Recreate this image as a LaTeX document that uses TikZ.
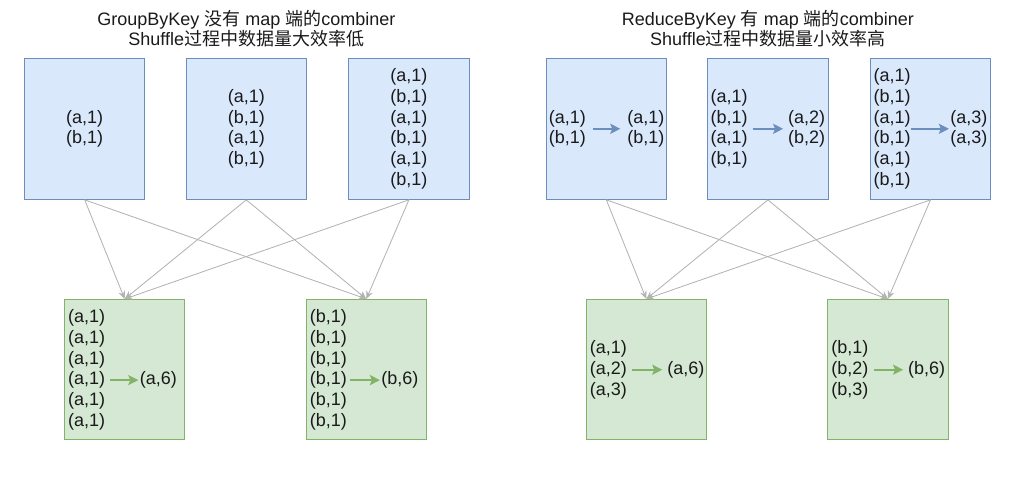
\documentclass[tikz,border=0pt]{standalone}
\usepackage{fontspec}
\setmainfont{Liberation Sans}
\newfontfamily\cjk{Noto Sans CJK SC}
\usepackage{xcolor}
\usepackage{tikz}
\definecolor{mapfill}{HTML}{DAE8FC}
\definecolor{mapdraw}{HTML}{6C8EBF}
\definecolor{redfill}{HTML}{D5E8D4}
\definecolor{reddraw}{HTML}{82B366}
\definecolor{linkgray}{HTML}{B3B3B3}
\definecolor{textgray}{HTML}{1A1A1A}
\usetikzlibrary{arrows.meta, positioning}

\begin{document}
\begin{tikzpicture}[
    x=0.025cm, y=-0.025cm,
    every node/.style={text=textgray, font=\fontsize{12.8}{14.7}\selectfont},
    mapbox/.style={rectangle, draw=mapdraw, fill=mapfill, line width=0.75pt,
                   minimum width=3.0125cm, minimum height=3.525cm, inner sep=0pt, align=center},
    redbox/.style={rectangle, draw=reddraw, fill=redfill, line width=0.75pt,
                   minimum width=3.0125cm, minimum height=3.51cm, inner sep=0pt},
    pairs/.style={inner sep=0pt, align=left},
    title/.style={inner sep=0pt, align=center},
    shuffle/.style={draw=linkgray, line width=0.6pt, -{Stealth[length=0.2cm, width=0.17cm]}},
    sumarrow/.style={line width=1.4pt, -{Stealth[length=0.25cm, width=0.25cm, inset=0.05cm]},
                     shorten <=0.12cm, shorten >=0.12cm}
]
    \useasboundingbox (0,0) rectangle (1011,483);

    % GroupByKey: map side
    \node[mapbox] (gmap1) at (84.7,128.8) {(a,1)\\(b,1)};
    \node[mapbox, right=1cm of gmap1] (gmap2) {(a,1)\\(b,1)\\(a,1)\\(b,1)};
    \node[mapbox, right=1.025cm of gmap2] (gmap3) {(a,1)\\(b,1)\\(a,1)\\(b,1)\\(a,1)\\(b,1)};
    \node[title, above=0.25cm of gmap2] (gtitle) {GroupByKey {\cjk 没有} map {\cjk 端的}combiner\\Shuffle{\cjk 过程中数据量大效率低}};

    % GroupByKey: reduce side
    \node[redbox] (gred1) at (124.7,369.7) {};
    \node[redbox, right=3cm of gred1] (gred2) {};
    \node[pairs, right=0.1cm of gred1.west, anchor=west] (gred1in) {(a,1)\\(a,1)\\(a,1)\\(a,1)\\(a,1)\\(a,1)};
    \node[pairs, right=0.85cm of gred1in, yshift=-0.26cm] (gred1out) {(a,6)};
    \node[pairs, right=0.1cm of gred2.west, anchor=west] (gred2in) {(b,1)\\(b,1)\\(b,1)\\(b,1)\\(b,1)\\(b,1)};
    \node[pairs, right=0.85cm of gred2in, yshift=-0.26cm] (gred2out) {(b,6)};
    \coordinate (gred1from) at (gred1in.east |- gred1out.west);
    \coordinate (gred2from) at (gred2in.east |- gred2out.west);
    \draw[sumarrow, reddraw, shorten >=0.03cm] (gred1from) -- (gred1out);
    \draw[sumarrow, reddraw, shorten <=0.08cm, shorten >=0.03cm] (gred2from) -- (gred2out);

    % ReduceByKey: map side with combiner
    \node[mapbox] (rmap1) at (606.3,128.8) {};
    \node[mapbox, right=1cm of rmap1] (rmap2) {};
    \node[mapbox, right=1.025cm of rmap2] (rmap3) {};
    \node[title, above=0.25cm of rmap2] (rtitle) {ReduceByKey {\cjk 有} map {\cjk 端的}combiner\\Shuffle{\cjk 过程中数据量小效率高}};

    \node[pairs, right=0.075cm of rmap1.west, anchor=west] (rmap1in) {(a,1)\\(b,1)};
    \node[pairs, right=1.025cm of rmap1in] (rmap1out) {(a,1)\\(b,1)};
    \node[pairs, right=0.08cm of rmap2.west, anchor=west] (rmap2in) {(a,1)\\(b,1)\\(a,1)\\(b,1)};
    \node[pairs, right=1cm of rmap2in] (rmap2out) {(a,2)\\(b,2)};
    \node[pairs, right=0.09cm of rmap3.west, anchor=west] (rmap3in) {(a,1)\\(b,1)\\(a,1)\\(b,1)\\(a,1)\\(b,1)};
    \node[pairs, right=0.98cm of rmap3in] (rmap3out) {(a,3)\\(a,3)};
    \draw[sumarrow, mapdraw, shorten <=0.17cm, shorten >=0.17cm] (rmap1in) -- (rmap1out);
    \draw[sumarrow, mapdraw] (rmap2in) -- (rmap2out);
    \draw[sumarrow, mapdraw, shorten <=0pt, shorten >=0.03cm] (rmap3in) -- (rmap3out);

    % ReduceByKey: reduce side
    \node[redbox] (rred1) at (646.3,369.7) {};
    \node[redbox, right=3cm of rred1] (rred2) {};
    \node[pairs, right=0.1cm of rred1.west, anchor=west] (rred1in) {(a,1)\\(a,2)\\(a,3)};
    \node[pairs, right=1cm of rred1in] (rred1out) {(a,6)};
    \node[pairs, right=0.1cm of rred2.west, anchor=west] (rred2in) {(b,1)\\(b,2)\\(b,3)};
    \node[pairs, right=0.98cm of rred2in] (rred2out) {(b,6)};
    \draw[sumarrow, reddraw] (rred1in) -- (rred1out);
    \draw[sumarrow, reddraw] (rred2in) -- (rred2out);

    % Shuffle links
    \foreach \src in {gmap1, gmap2, gmap3}
        \foreach \dst in {gred1, gred2}
            \draw[shuffle] (\src.south) -- (\dst.north);
    \foreach \src in {rmap1, rmap2, rmap3}
        \foreach \dst in {rred1, rred2}
            \draw[shuffle] (\src.south) -- (\dst.north);
\end{tikzpicture}
\end{document}
